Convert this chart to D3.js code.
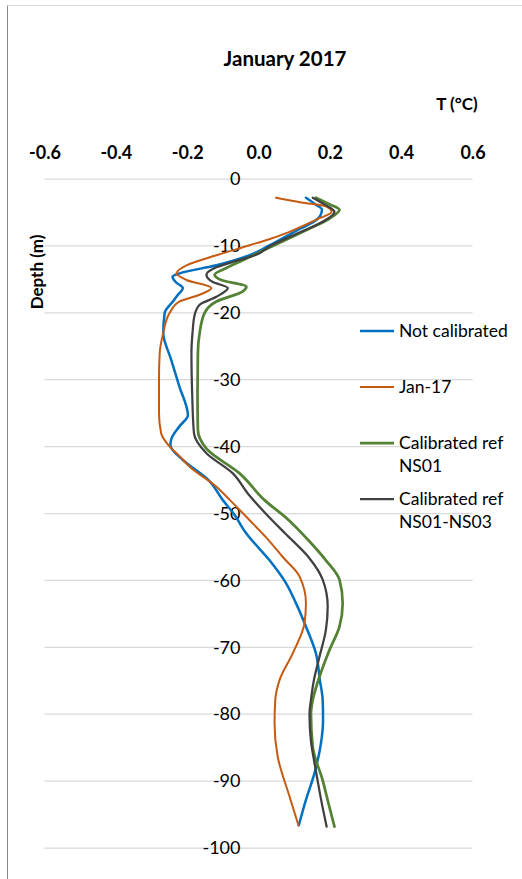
<!DOCTYPE html>
<html>
<head>
<meta charset="utf-8">
<script src="https://cdn.jsdelivr.net/npm/d3@7"></script>
<style>
  html, body { margin: 0; padding: 0; background: #fff; }
  svg { display: block; font-family: Lato, "Open Sans", sans-serif; }
</style>
</head>
<body>
<svg id="chart" width="522" height="879"></svg>
<script>
// Temperature profiles, January 2017: depth (m) and temperature (°C)
const notCalDepth = [-2.8, -3.8, -4.6, -5.6, -6.4, -7.4, -8.5, -10, -11.4, -12.9, -14.1, -14.6, -15.4, -16.3, -17.3, -18.3, -20, -23, -27, -31, -35.3, -37, -38.8, -39.8, -42, -45, -48, -50, -53, -57, -60.4, -63.4, -66.9, -70.9, -74.9, -77.9, -80.9, -84.4, -88.8, -92.8, -96.6];
const notCalTemp  = [0.133, 0.16, 0.178, 0.172, 0.155, 0.118, 0.08, 0.028, -0.025, -0.118, -0.221, -0.241, -0.232, -0.212, -0.226, -0.24, -0.263, -0.267, -0.245, -0.222, -0.198, -0.222, -0.244, -0.247, -0.212, -0.14, -0.1, -0.07, -0.034, 0.031, 0.077, 0.105, 0.133, 0.161, 0.172, 0.18, 0.181, 0.175, 0.157, 0.133, 0.113];

const jan17Depth = [-2.8, -3.5, -4.1, -4.9, -6, -7, -7.9, -9, -9.9, -11.4, -12.9, -14.1, -15.1, -16.3, -17.3, -18.3, -20, -23, -26, -30, -35, -38, -40, -41.5, -43, -46, -48, -51, -53.5, -56.5, -59.4, -63.4, -66.4, -70.9, -74.9, -77.9, -81.4, -86.4, -92.3, -96.6];
const jan17Temp  = [0.049, 0.12, 0.189, 0.205, 0.165, 0.125, 0.087, 0.03, -0.025, -0.118, -0.202, -0.23, -0.202, -0.132, -0.165, -0.221, -0.249, -0.267, -0.277, -0.279, -0.279, -0.273, -0.249, -0.22, -0.193, -0.118, -0.08, -0.025, 0.02, 0.068, 0.115, 0.133, 0.129, 0.096, 0.059, 0.047, 0.045, 0.054, 0.087, 0.112];

const ns01Depth = [-2.8, -3.8, -4.6, -5.9, -7, -8, -10, -11.4, -12.3, -13.3, -14.3, -15.1, -16.1, -16.8, -18.3, -20, -23, -26, -32, -37.5, -40.3, -44, -48, -51, -54, -57, -59.9, -63.4, -66.9, -70.4, -74.4, -77.9, -79.9, -84.9, -89.9, -93.5, -96.8];
const ns01Temp  = [0.161, 0.2, 0.227, 0.199, 0.16, 0.12, 0.04, -0.015, -0.05, -0.09, -0.123, -0.104, -0.034, -0.044, -0.118, -0.151, -0.165, -0.17, -0.171, -0.17, -0.146, -0.053, 0.017, 0.085, 0.14, 0.189, 0.227, 0.236, 0.227, 0.199, 0.171, 0.152, 0.147, 0.152, 0.18, 0.197, 0.213];

const ns0103Depth = [-2.8, -3.8, -4.9, -6.4, -8, -10, -11.4, -12.2, -13.3, -14.3, -15.4, -16.3, -17.6, -18.8, -20.3, -23, -26, -32, -38, -41, -44, -47, -50, -53, -56.5, -59.9, -63.9, -67.4, -71.4, -75, -77.9, -80, -84, -87, -90, -94, -96.8];
const ns0103Temp  = [0.152, 0.185, 0.213, 0.18, 0.115, 0.033, -0.01, -0.06, -0.123, -0.146, -0.128, -0.086, -0.118, -0.165, -0.179, -0.185, -0.188, -0.186, -0.181, -0.146, -0.072, -0.03, 0.02, 0.075, 0.14, 0.18, 0.194, 0.189, 0.171, 0.155, 0.147, 0.143, 0.147, 0.156, 0.166, 0.18, 0.191];

const tempTicks  = [-0.6, -0.4, -0.2, 0, 0.2, 0.4, 0.6];
const depthTicks = [0, -10, -20, -30, -40, -50, -60, -70, -80, -90, -100];

const seriesNames  = ["Not calibrated", "Jan-17", "Calibrated ref NS01", "Calibrated ref NS01-NS03"];
const seriesColors = ["#0070C0", "#C55A11", "#548235", "#404040"];
const seriesWidths = [2.5, 2, 2.75, 2.25];

const series = [
  { depth: notCalDepth, temp: notCalTemp },
  { depth: jan17Depth,  temp: jan17Temp },
  { depth: ns01Depth,   temp: ns01Temp },
  { depth: ns0103Depth, temp: ns0103Temp }
].map((s, i) => ({
  name: seriesNames[i], color: seriesColors[i], width: seriesWidths[i],
  points: s.depth.map((d, j) => ({ depth: d, temp: s.temp[j] }))
}));

const svg = d3.select("#chart");

// chart frame
svg.append("line").attr("x1", 7.5).attr("x2", 522).attr("y1", 5.5).attr("y2", 5.5)
  .attr("stroke", "#d9d9d9").attr("stroke-width", 1);
svg.append("line").attr("x1", 7.5).attr("x2", 7.5).attr("y1", 5.5).attr("y2", 879)
  .attr("stroke", "#8c8c8c").attr("stroke-width", 1);

const x = d3.scaleLinear().domain([-0.6, 0.6]).range([44.5, 472.5]);
const y = d3.scaleLinear().domain([0, -100]).range([179, 848]);

// horizontal gridlines
svg.append("g")
  .selectAll("line").data(depthTicks).join("line")
  .attr("x1", x(-0.6)).attr("x2", x(0.6))
  .attr("y1", d => y(d)).attr("y2", d => y(d))
  .attr("stroke", "#d9d9d9").attr("stroke-width", 1.25);

// temperature axis on top (plain hyphen for negatives)
const xAxis = d3.axisTop(x).tickValues(tempTicks).tickFormat(d => d.toFixed(1)).tickSize(0);
svg.append("g").attr("transform", "translate(0,162)").call(xAxis)
  .call(g => g.select(".domain").remove())
  .call(g => g.selectAll("text")
    .attr("dy", 0).attr("font-family", "Lato, sans-serif")
    .attr("font-size", 18).attr("font-weight", "bold").attr("fill", "#000"));

// depth axis labels, placed at T = 0
const yAxis = d3.axisLeft(y).tickValues(depthTicks).tickFormat(d => String(d)).tickSize(0).tickPadding(0);
svg.append("g").attr("transform", `translate(${x(0) - 18},0)`).call(yAxis)
  .call(g => g.select(".domain").remove())
  .call(g => g.selectAll("text")
    .attr("font-family", "Lato, sans-serif")
    .attr("font-size", 18).attr("fill", "#000"));

// profiles
const line = d3.line()
  .x(d => x(d.temp))
  .y(d => y(d.depth))
  .curve(d3.curveMonotoneY);

svg.append("g").selectAll("path").data(series).join("path")
  .attr("d", d => line(d.points))
  .attr("fill", "none")
  .attr("stroke", d => d.color)
  .attr("stroke-width", d => d.width)
  .attr("stroke-linejoin", "round")
  .attr("stroke-linecap", "round");

// title and axis titles
svg.append("text").attr("x", 285).attr("y", 66).attr("text-anchor", "middle")
  .attr("font-size", 20.5).attr("font-weight", "bold").text("January 2017");
svg.append("text").attr("x", 457).attr("y", 110).attr("text-anchor", "middle")
  .attr("font-size", 17).attr("font-weight", "bold").text("T (°C)");
svg.append("text").attr("transform", "translate(43,272) rotate(-90)")
  .attr("text-anchor", "middle")
  .attr("font-size", 17).attr("font-weight", "bold").text("Depth (m)");

// legend
const legendRows = [
  { lines: ["Not calibrated"], y: 331 },
  { lines: ["Jan-17"], y: 387 },
  { lines: ["Calibrated ref", "NS01"], y: 443 },
  { lines: ["Calibrated ref", "NS01-NS03"], y: 499 }
];
const legend = svg.append("g");
legendRows.forEach((row, i) => {
  legend.append("line")
    .attr("x1", 360).attr("x2", 394).attr("y1", row.y).attr("y2", row.y)
    .attr("stroke", seriesColors[i]).attr("stroke-width", seriesWidths[i]);
  const t = legend.append("text").attr("x", 399).attr("y", row.y)
    .attr("font-size", 17.5).attr("fill", "#000");
  row.lines.forEach((s, k) => {
    t.append("tspan").attr("x", 399).attr("dy", k === 0 ? "0.35em" : 23).text(s);
  });
});
</script>
</body>
</html>
